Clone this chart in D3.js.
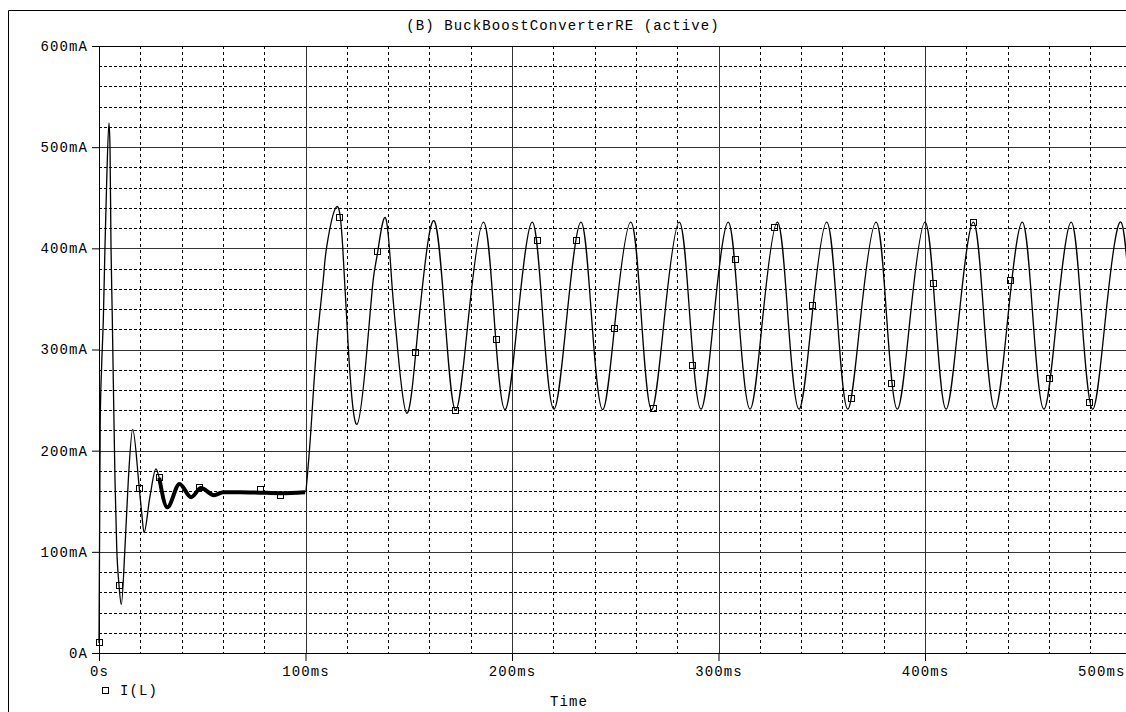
<!DOCTYPE html>
<html>
<head>
<meta charset="utf-8">
<script src="https://cdn.jsdelivr.net/npm/d3@7"></script>
<style>
  html, body { margin: 0; padding: 0; background: #fff; }
  svg { display: block; }
  text { font-family: "Liberation Mono", "DejaVu Sans Mono", monospace; font-size: 14px; letter-spacing: 1.1px; fill: #000; }
</style>
</head>
<body>
<svg id="chart" width="1126" height="712"></svg>
<script>
// ---------------- data (time in ms, current in mA) ----------------
const titleText = "(B) BuckBoostConverterRE (active)";
const seriesName = "I(L)";
const xAxisTitle = "Time";

const timeTicks = [0, 100, 200, 300, 400, 500];
const timeTickLabels = ["0s", "100ms", "200ms", "300ms", "400ms", "500ms"];
const currentTicks = [0, 100, 200, 300, 400, 500, 600];
const currentTickLabels = ["0A", "100mA", "200mA", "300mA", "400mA", "500mA", "600mA"];

// start-up transient (0 - 100 ms)
const transientTime = [0, 0.3, 0.6, 1.3, 2.1, 2.9, 3.73, 4.84, 5.33, 5.81, 6.4, 6.92, 7.75, 8.57, 9.69, 10.8,
  12.6, 14.2, 16.3, 19.5, 20.7, 21.8, 24.7, 27.6, 29.2, 33.1, 39.0, 44.6, 49.4, 55.7, 60.2, 68.3, 78.0, 87.7, 99.8];
const transientCurrent = [10, 120, 230, 285, 330, 402, 467, 524, 500, 402, 336, 270, 171, 105, 67, 48,
  105, 171, 221, 163, 138, 119, 155, 182, 173, 144, 167, 154, 163, 156, 159, 159, 158.5, 158, 159];

// oscillating section after the 100 ms load step
const oscTime = [100.2, 102.5, 105.4, 108.6, 110.3, 115.0, 118.0, 120.7, 124.9, 129.9, 132.8, 135.0, 138.8,
  141.7, 144.5, 149.0, 153.4, 157.0, 162.4,
  167.5, 172.7, 179.0, 186.2, 191.3, 196.6, 202.9, 209.8, 214.9, 220.3, 226.6, 233.4,
  238.5, 243.9, 250.2, 257.5, 262.6, 267.6, 273.9, 281.0, 286.1, 291.5, 297.8, 304.7,
  309.8, 315.3, 321.5, 328.5, 333.6, 339.0, 345.3, 352.4, 357.5, 362.6, 368.9, 376.3,
  381.4, 386.6, 392.9, 400.0, 405.1, 410.2, 416.5, 423.4, 428.5, 433.9, 440.2, 447.1,
  452.2, 457.6, 463.9, 470.8, 475.9, 481.2, 487.5, 494.8, 499.9, 505.2];
const oscCurrent = [159, 217, 303, 369, 402, 441, 402, 303, 226, 303, 369, 397, 430,
  369, 303, 237, 297, 369, 427,
  333, 240, 333, 426, 333, 240.5, 333, 426, 333, 241, 333, 426,
  333, 240.5, 333, 426, 333, 240.5, 333, 426, 333, 241, 333, 426,
  333, 241, 333, 426, 333, 241, 333, 426, 333, 241, 333, 426,
  333, 241, 333, 426, 333, 241, 333, 426, 333, 241, 333, 426,
  333, 241, 333, 426, 333, 241, 333, 426, 333, 241];

// marker symbols drawn on the trace
const markerTime = [0, 9.7, 19.5, 29.2, 48.5, 78.3, 88.0,
  116.7, 135.0, 153.4, 172.7, 192.6, 212.4, 231.3, 249.5, 268.4, 287.4, 308.3, 327.0,
  345.4, 364.5, 383.9, 404.0, 423.4, 441.6, 460.5, 479.6];
const markerCurrent = [10, 67, 163, 173, 164, 162, 156,
  430, 397, 297, 239.5, 310, 407.5, 408, 321, 242, 284, 388.5, 421,
  343, 252, 266, 365, 426, 368, 271, 248];

// ---------------- drawing ----------------
const W = 1126, H = 712;
const plotLeft = 99, plotTop = 46, plotBottom = 653, plotRight = 1131.5;
const svg = d3.select("#chart");
svg.append("rect").attr("width", W).attr("height", H).attr("fill", "#fff");

const x = d3.scaleLinear().domain([0, 500]).range([plotLeft, plotRight]);
const y = d3.scaleLinear().domain([0, 600]).range([plotBottom, plotTop]);

// outer frame
svg.append("path")
  .attr("d", `M8.5,${H + 5}V10.5H${W + 5}`)
  .attr("fill", "none").attr("stroke", "#000").attr("stroke-width", 1);

// title
svg.append("text").attr("x", 563).attr("y", 29.5).attr("text-anchor", "middle").text(titleText);

const grid = svg.append("g");
const minorT = d3.range(20, 520, 20).filter(v => v % 100 !== 0);
const minorI = d3.range(20, 600, 20).filter(v => v % 100 !== 0);
grid.selectAll(".vmin").data(minorT).join("line")
  .attr("x1", d => Math.round(x(d)) + 0.5).attr("x2", d => Math.round(x(d)) + 0.5)
  .attr("y1", plotTop).attr("y2", plotBottom)
  .attr("stroke", "#000").attr("stroke-width", 1).attr("stroke-dasharray", "3,3");
grid.selectAll(".hmin").data(minorI).join("line")
  .attr("x1", plotLeft).attr("x2", W)
  .attr("y1", d => Math.round(y(d)) + 0.5).attr("y2", d => Math.round(y(d)) + 0.5)
  .attr("stroke", "#000").attr("stroke-width", 1).attr("stroke-dasharray", "3,2");
grid.selectAll(".vmaj").data(timeTicks.filter(d => d > 0)).join("line")
  .attr("x1", d => Math.round(x(d)) + 0.5).attr("x2", d => Math.round(x(d)) + 0.5)
  .attr("y1", plotTop).attr("y2", plotBottom)
  .attr("stroke", "#333").attr("stroke-width", 1);
grid.selectAll(".hmaj").data(currentTicks.filter(d => d > 0)).join("line")
  .attr("x1", plotLeft).attr("x2", W)
  .attr("y1", d => Math.round(y(d)) + 0.5).attr("y2", d => Math.round(y(d)) + 0.5)
  .attr("stroke", "#333").attr("stroke-width", 1);

// axes
const yAxis = d3.axisLeft(y).tickValues(currentTicks)
  .tickFormat((d, i) => currentTickLabels[i]).tickSize(7).tickSizeOuter(0).tickPadding(4);
const gy = svg.append("g").attr("transform", `translate(${plotLeft},0)`).call(yAxis);
const xAxis = d3.axisBottom(x).tickValues(timeTicks)
  .tickFormat((d, i) => timeTickLabels[i]).tickSize(8).tickSizeOuter(0).tickPadding(5);
const gx = svg.append("g").attr("transform", `translate(0,${plotBottom})`).call(xAxis);
[gx, gy].forEach(g => {
  g.selectAll("path,line").attr("stroke", "#000");
  g.selectAll("text").attr("font-family", null).attr("font-size", null).attr("fill", "#000");
});
gx.selectAll(".tick").filter(d => d === 500).select("text")
  .attr("text-anchor", "end").attr("x", (W - 1) - x(500));
gx.select(".domain").attr("d", `M${plotLeft},0.5H${W + 5}`);

// top border of plot
svg.append("line").attr("x1", plotLeft).attr("x2", W)
  .attr("y1", plotTop + 0.5).attr("y2", plotTop + 0.5).attr("stroke", "#000");

// traces
const tr = transientTime.map((t, i) => ({ t, v: transientCurrent[i] }));
const osc = oscTime.map((t, i) => ({ t, v: oscCurrent[i] }));
const lineMono = d3.line().x(d => x(d.t)).y(d => y(d.v)).curve(d3.curveMonotoneX);
const lineNat = d3.line().x(d => x(d.t)).y(d => y(d.v)).curve(d3.curveNatural);

svg.append("path").attr("d", lineMono(tr))
  .attr("fill", "none").attr("stroke", "#000").attr("stroke-width", 1.3);
// switching-ripple band in the settled part of the transient
svg.append("path").attr("d", lineMono(tr.filter(d => d.t >= 29.2)))
  .attr("fill", "none").attr("stroke", "#000").attr("stroke-width", 4).attr("stroke-linejoin", "round");
svg.append("path").attr("d", lineNat(osc))
  .attr("fill", "none").attr("stroke", "#000").attr("stroke-width", 1.3);

// markers
const ms = 7;
svg.append("g").selectAll("rect").data(markerTime.map((t, i) => ({ t, v: markerCurrent[i] }))).join("rect")
  .attr("x", d => Math.round(x(d.t) - ms / 2) + 0.5).attr("y", d => Math.round(y(d.v) - ms / 2) + 0.5)
  .attr("width", ms - 1).attr("height", ms - 1)
  .attr("fill", "none").attr("stroke", "#000").attr("stroke-width", 1);

// legend
svg.append("rect").attr("x", 102.5).attr("y", 687.5).attr("width", 6).attr("height", 6)
  .attr("fill", "none").attr("stroke", "#000");
svg.append("text").attr("x", 120).attr("y", 695).text(seriesName);

// x-axis title
svg.append("text").attr("x", 569).attr("y", 706).attr("text-anchor", "middle").text(xAxisTitle);
</script>
</body>
</html>
